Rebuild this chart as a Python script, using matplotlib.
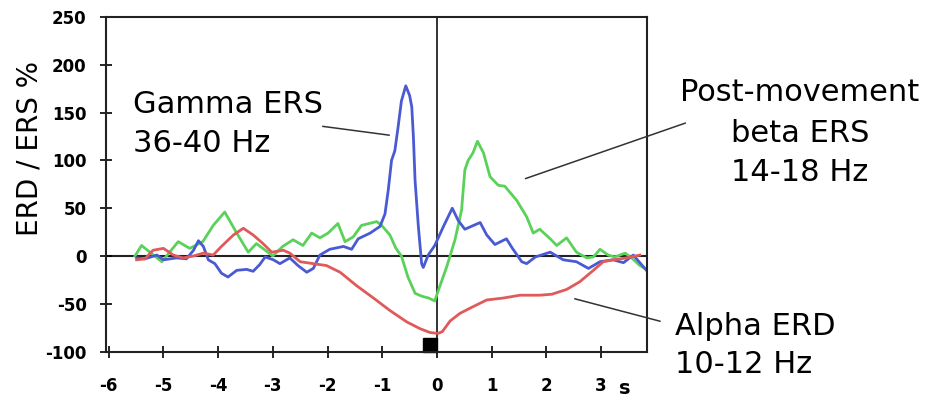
import matplotlib
matplotlib.use("Agg")
import matplotlib.pyplot as plt

plt.rcParams["axes.unicode_minus"] = False

# time (s) and ERD/ERS (%)
beta_t = [-5.52, -5.40, -5.03, -4.73, -4.52, -4.28, -4.09, -3.88, -3.66, -3.45,
          -3.30, -3.00, -2.82, -2.63, -2.45, -2.29, -2.14, -1.99, -1.81, -1.68,
          -1.53, -1.38, -1.10, -1.01, -0.86, -0.75, -0.65, -0.53, -0.40, -0.28,
          -0.15, -0.04, 0.05, 0.18, 0.33, 0.45, 0.51, 0.57, 0.66, 0.74,
          0.85, 0.97, 1.12, 1.24, 1.46, 1.64, 1.76, 1.88, 2.07, 2.19,
          2.37, 2.55, 2.74, 2.86, 2.98, 3.13, 3.25, 3.44, 3.56, 3.71, 3.80]
beta_ers = [0, 11, -6, 15, 8, 15, 32, 46, 24, 4,
            13, 0, 10, 17, 11, 24, 19, 24, 34, 15,
            20, 32, 36, 32, 22, 8, 0, -22, -39, -42,
            -44, -47, -32, -11, 17, 48, 90, 100, 108, 120,
            108, 83, 74, 73, 58, 41, 24, 28, 18, 11,
            19, 4, -2, -1, 7, 1, -1, 3, -2, -10, -13]

gamma_t = [-5.49, -5.34, -5.12, -5.00, -4.76, -4.58, -4.45, -4.36, -4.27, -4.18,
           -4.06, -3.94, -3.82, -3.66, -3.48, -3.36, -3.24, -3.14, -2.99, -2.87,
           -2.69, -2.54, -2.38, -2.26, -2.14, -1.96, -1.71, -1.56, -1.44, -1.22,
           -1.04, -0.95, -0.89, -0.83, -0.77, -0.71, -0.65, -0.57, -0.50, -0.46,
           -0.43, -0.40, -0.34, -0.28, -0.25, -0.16, -0.04, 0.12, 0.28, 0.39,
           0.51, 0.63, 0.79, 0.91, 1.06, 1.27, 1.38, 1.55, 1.64, 1.80,
           2.07, 2.31, 2.55, 2.77, 2.98, 3.22, 3.41, 3.59, 3.83]
gamma_ers = [-2, -3, 1, -4, -2, -3, 6, 16, 10, -4,
             -8, -18, -22, -15, -14, -16, -9, -1, -4, -8,
             -2, -10, -17, -13, 1, 7, 10, 7, 18, 24,
             31, 44, 69, 100, 110, 135, 162, 178, 168, 156,
             124, 79, 31, -8, -12, 1, 11, 31, 50, 37,
             28, 31, 35, 22, 12, 18, 8, -6, -8, -1,
             4, -4, -6, -13, -6, -4, -7, 1, -15]

alpha_t = [-5.49, -5.34, -5.19, -5.00, -4.82, -4.64, -4.45, -4.27, -4.09, -3.94,
           -3.72, -3.54, -3.36, -3.18, -3.02, -2.81, -2.69, -2.50, -2.26, -2.02,
           -1.77, -1.47, -1.16, -0.86, -0.55, -0.31, -0.13, 0.02, 0.10, 0.24,
           0.42, 0.66, 0.91, 1.21, 1.52, 1.88, 2.10, 2.37, 2.61, 2.86,
           3.04, 3.22, 3.47, 3.71]
alpha_erd = [-4, -3, 6, 8, 1, -2, 0, 3, 1, 10,
             22, 29, 22, 13, 4, 6, 3, -6, -8, -10,
             -17, -31, -44, -57, -69, -76, -80, -81, -79, -68,
             -60, -53, -46, -44, -41, -41, -40, -35, -27, -15,
             -6, -4, -2, 1]

x_ticks = [-6, -5, -4, -3, -2, -1, 0, 1, 2, 3]
y_ticks = [-100, -50, 0, 50, 100, 150, 200, 250]
movement_onset = -0.13

W, H = 928, 396
fig = plt.figure(figsize=(W / 100, H / 100), dpi=100)
ax = fig.add_axes([106 / W, 1 - 351.6 / H, 541 / W, 334.6 / H])

ax.plot(beta_t, beta_ers, color="#5ad25a", lw=2.0)
ax.plot(gamma_t, gamma_ers, color="#4a5ad2", lw=2.0)
ax.plot(alpha_t, alpha_erd, color="#e05a5a", lw=2.0)

ax.axhline(0, color="#222222", lw=1.5, zorder=1)
ax.axvline(0, color="#222222", lw=1.3, zorder=1)
ax.plot([movement_onset], [-93], marker="s", ms=10, color="black", clip_on=False)

ax.set_xlim(-6.05, 3.84)
ax.set_ylim(-100, 250)
ax.set_xticks(x_ticks)
ax.set_yticks(y_ticks)
for s in ax.spines.values():
    s.set_linewidth(1.5)
    s.set_color("#222222")
ax.tick_params(direction="inout", length=8, width=1.2, labelsize=12)
ax.tick_params(axis="x", pad=14)
ax.tick_params(axis="y", pad=10)
for lab in ax.get_xticklabels() + ax.get_yticklabels():
    lab.set_fontweight("bold")

fig.text(625 / W, 1 - 388 / H, "s", fontsize=14, fontweight="bold",
         ha="center", va="center")
fig.text(30 / W, 1 - 149 / H, "ERD / ERS %", fontsize=20, rotation=90,
         ha="center", va="center")

fs = 22
fig.text(133 / W, 1 - 113 / H, "Gamma ERS", fontsize=fs, ha="left", va="baseline")
fig.text(133 / W, 1 - 152 / H, "36-40 Hz", fontsize=fs, ha="left", va="baseline")
fig.text(800 / W, 1 - 101 / H, "Post-movement", fontsize=fs, ha="center", va="baseline")
fig.text(800 / W, 1 - 142 / H, "beta ERS", fontsize=fs, ha="center", va="baseline")
fig.text(800 / W, 1 - 181 / H, "14-18 Hz", fontsize=fs, ha="center", va="baseline")
fig.text(675 / W, 1 - 335 / H, "Alpha ERD", fontsize=fs, ha="left", va="baseline")
fig.text(675 / W, 1 - 373 / H, "10-12 Hz", fontsize=fs, ha="left", va="baseline")

# leader lines
ax.annotate("", xy=(-0.82, 126), xytext=(-2.14, 136),
            arrowprops=dict(arrowstyle="-", color="#333333", lw=1.1))
ax.annotate("", xy=(4.59, 140), xytext=(1.57, 80), annotation_clip=False,
            arrowprops=dict(arrowstyle="-", color="#333333", lw=1.1))
ax.annotate("", xy=(4.13, -69), xytext=(2.47, -44), annotation_clip=False,
            arrowprops=dict(arrowstyle="-", color="#333333", lw=1.1))

fig.savefig("out.png", dpi=100)
